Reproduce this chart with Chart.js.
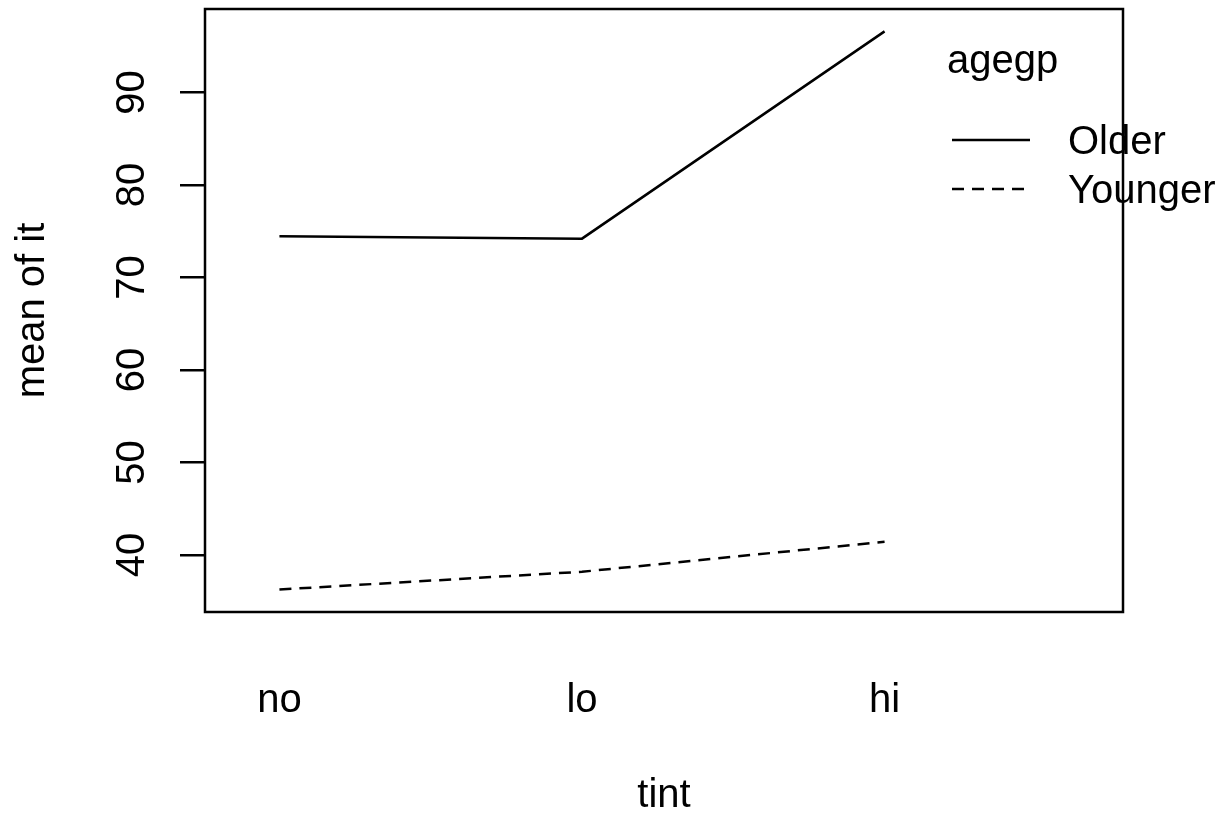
<!DOCTYPE html>
<html><head><meta charset="utf-8">
<script src="https://cdn.jsdelivr.net/npm/chart.js@4/dist/chart.umd.min.js"></script>
<style>html,body{margin:0;padding:0;background:#fff}canvas{display:block}</style>
</head><body>
<canvas id="c" width="1227" height="817"></canvas>
<script>
// ---- data ----
const categories = ['no', 'lo', 'hi'];
const olderMeans = [74.45, 74.2, 96.6];
const youngerMeans = [36.28, 38.2, 41.44];
const seriesNames = ['Older', 'Younger'];
const yTickValues = [40, 50, 60, 70, 80, 90];
const legendTitle = 'agegp';
const xTitle = 'tint';
const yTitle = 'mean of it';

const FONT = "'Liberation Sans', Arial, Helvetica, sans-serif";
const toPts = arr => arr.map((v, i) => ({x: i + 1, y: v}));

const legendPlugin = {
  id: 'rLegend',
  afterDraw(chart) {
    const ctx = chart.ctx;
    ctx.save();
    ctx.fillStyle = '#000';
    ctx.strokeStyle = '#000';
    ctx.font = '40px ' + FONT;
    ctx.textAlign = 'left';
    ctx.textBaseline = 'alphabetic';
    ctx.fillText(legendTitle, 947, 73);
    const rows = [140, 189];
    chart.data.datasets.forEach((ds, i) => {
      const y = rows[i];
      ctx.lineWidth = ds.borderWidth;
      ctx.setLineDash(ds.borderDash || []);
      ctx.beginPath();
      ctx.moveTo(952, y);
      ctx.lineTo(1030, y);
      ctx.stroke();
      ctx.setLineDash([]);
      ctx.textBaseline = 'middle';
      ctx.fillText(ds.label, 1068, y + 3);
    });
    ctx.restore();
  }
};

const boxPlugin = {
  id: 'rBox',
  afterDraw(chart) {
    const {ctx, chartArea: a} = chart;
    ctx.save();
    ctx.strokeStyle = '#000';
    ctx.lineWidth = 2.5;
    ctx.strokeRect(a.left, a.top, a.right - a.left, a.bottom - a.top);
    ctx.restore();
  }
};

new Chart(document.getElementById('c'), {
  type: 'line',
  data: {
    datasets: [
      {label: seriesNames[0], data: toPts(olderMeans), borderColor: '#000', borderWidth: 2.5,
       pointRadius: 0, fill: false, tension: 0},
      {label: seriesNames[1], data: toPts(youngerMeans), borderColor: '#000', borderWidth: 2.5,
       borderDash: [12, 8], pointRadius: 0, fill: false, tension: 0}
    ]
  },
  options: {
    responsive: false,
    animation: false,
    devicePixelRatio: 1,
    layout: {padding: {top: 9, right: 104, left: 0, bottom: 0}},
    plugins: {legend: {display: false}, tooltip: {enabled: false}},
    scales: {
      x: {
        type: 'linear', min: 0.754, max: 3.788,
        afterBuildTicks: s => { s.ticks = categories.map((c, i) => ({value: i + 1})); },
        afterFit: s => { s.height = 205; s.paddingLeft = 0; s.paddingRight = 0; },
        grid: {display: false},
        border: {display: false},
        ticks: {padding: 57, autoSkip: false, maxRotation: 0, color: '#000',
                font: {family: FONT, size: 40},
                callback: (v, i) => categories[i]},
        title: {display: true, text: xTitle, color: '#000',
                font: {family: FONT, size: 40, lineHeight: 1}, padding: {top: 0, bottom: 1}}
      },
      y: {
        type: 'linear', min: 33.85, max: 99.02,
        afterBuildTicks: s => { s.ticks = yTickValues.map(v => ({value: v})); },
        afterFit: s => { s.width = 205; s.paddingTop = 0; s.paddingBottom = 0; },
        grid: {drawOnChartArea: false, drawTicks: true, tickLength: 25, color: '#000', lineWidth: 2.5},
        border: {display: false},
        ticks: {padding: 25, minRotation: 90, maxRotation: 90, crossAlign: 'center', autoSkip: false,
                color: '#000', font: {family: FONT, size: 40}},
        title: {display: true, text: yTitle, color: '#000',
                font: {family: FONT, size: 40, lineHeight: 1}, padding: {top: 13, bottom: 0}}
      }
    }
  },
  plugins: [legendPlugin, boxPlugin]
});
</script>
</body></html>
